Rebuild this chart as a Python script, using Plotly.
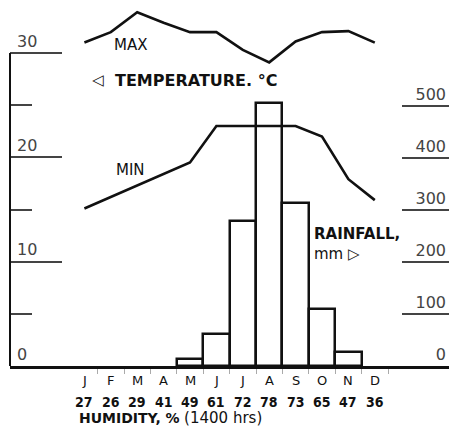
import plotly.graph_objects as go

months = ["J", "F", "M", "A", "M", "J", "J", "A", "S", "O", "N", "D"]
humidity = [27, 26, 29, 41, 49, 61, 72, 78, 73, 65, 47, 36]
temp_max = [31.0, 32.0, 33.9, 32.9, 32.0, 32.0, 30.3, 29.1, 31.1, 32.0, 32.1, 31.0]
temp_min = [15.1, 16.2, 17.3, 18.4, 19.5, 23.0, 23.0, 23.0, 23.0, 22.0, 17.9, 15.9]
rainfall = [0, 0, 0, 0, 13, 62, 280, 507, 314, 110, 27, 0]
temp_ticks = [0, 10, 20, 30]
temp_minor = [5, 15, 25]
rain_ticks = [0, 100, 200, 300, 400, 500]

W, H = 449, 428
x_idx = list(range(len(months)))
FONT = "DejaVu Sans"
INK = "#111"

# months with no rain get no drawn bar (value stays 0 in the data)
rain_drawn = [v if v > 0 else None for v in rainfall]

fig = go.Figure()
fig.add_trace(go.Bar(x=x_idx, y=rain_drawn, width=1.0, yaxis="y",
                     marker=dict(color="white", line=dict(color=INK, width=2.5)),
                     showlegend=False))
fig.add_trace(go.Scatter(x=x_idx, y=temp_max, yaxis="y2", mode="lines",
                         line=dict(color=INK, width=2.6), showlegend=False))
fig.add_trace(go.Scatter(x=x_idx, y=temp_min, yaxis="y2", mode="lines",
                         line=dict(color=INK, width=2.6), showlegend=False))

# pixel geometry helpers
x_left_px = 10
base_px = 366
px_per_month = 26.4
jan_px = 84.4
xr0 = (x_left_px - jan_px) / px_per_month
xr1 = (W - jan_px) / px_per_month
tscale = (base_px - 53) / 30.0
t_top = base_px / tscale
r_top = 705

def py(p):
    return 1 - p / H

def px(p):
    return p / W

fig.update_layout(
    width=W, height=H, margin=dict(l=0, r=0, t=0, b=0),
    paper_bgcolor="white", plot_bgcolor="white",
    bargap=0, showlegend=False,
    xaxis=dict(domain=[px(x_left_px), 1], range=[xr0, xr1], showgrid=False,
               zeroline=False, showline=True, linecolor=INK, linewidth=2.5,
               tickvals=[], showticklabels=False,
               minor=dict(tickmode="array", tickvals=[i + 0.5 for i in x_idx],
                          ticks="outside", ticklen=5, tickwidth=1, tickcolor="#aaa")),
    yaxis=dict(domain=[py(base_px), 1], range=[0, r_top], side="right",
               showgrid=False, zeroline=False, showline=False,
               tickmode="array", tickvals=rain_ticks,
               ticks="inside", ticklen=47, tickwidth=1.5, tickcolor="#444",
               ticklabelposition="inside top",
               tickfont=dict(family=FONT, size=16, color="#444")),
    yaxis2=dict(domain=[py(base_px), 1], range=[0, t_top], side="left",
                overlaying="y", anchor="x",
                showgrid=False, zeroline=False, showline=False,
                tickmode="array", tickvals=temp_ticks,
                ticks="inside", ticklen=52, tickwidth=1.5, tickcolor="#444",
                minor=dict(tickmode="array", tickvals=temp_minor, ticks="inside",
                           ticklen=22, tickwidth=1.5, tickcolor="#444"),
                ticklabelposition="inside top", ticklabelstandoff=4,
                tickfont=dict(family=FONT, size=16, color="#444")),
)

# left axis line from 0 to 30
fig.add_shape(type="line", xref="x domain", yref="y2", x0=0, x1=0,
              y0=temp_ticks[0], y1=temp_ticks[-1], line=dict(color=INK, width=2))

ann = []
for i, m in enumerate(months):
    ann.append(dict(x=i, y=py(380), xref="x", yref="paper", text=m, showarrow=False,
                    font=dict(family=FONT, size=13, color=INK), yanchor="middle"))
    ann.append(dict(x=i, y=py(402), xref="x", yref="paper", text="<b>%d</b>" % humidity[i],
                    showarrow=False, yanchor="middle",
                    font=dict(family="Liberation Sans Narrow, DejaVu Sans Condensed, Liberation Sans",
                              size=14, color=INK)))
ann.append(dict(x=px(77), y=py(418), xref="paper", yref="paper", xanchor="left", yanchor="middle",
                text="<b>HUMIDITY, %</b> <span style='font-size:15px'>(1400 hrs)</span>",
                showarrow=False, font=dict(family=FONT, size=14, color=INK)))
ann.append(dict(x=px(112), y=py(45), xref="paper", yref="paper", xanchor="left", yanchor="middle",
                text="MAX", showarrow=False, font=dict(family=FONT, size=15, color=INK)))
ann.append(dict(x=px(114), y=py(170), xref="paper", yref="paper", xanchor="left", yanchor="middle",
                text="MIN", showarrow=False, font=dict(family=FONT, size=15, color=INK)))
ann.append(dict(x=px(90), y=py(80), xref="paper", yref="paper", xanchor="left", yanchor="middle",
                text="◁", showarrow=False, font=dict(family=FONT, size=15, color=INK)))
ann.append(dict(x=px(113), y=py(80), xref="paper", yref="paper", xanchor="left", yanchor="middle",
                text="<b>TEMPERATURE. °C</b>", showarrow=False,
                font=dict(family=FONT, size=16, color=INK)))
ann.append(dict(x=px(312), y=py(234), xref="paper", yref="paper", xanchor="left", yanchor="middle",
                text="<b>RAINFALL,</b>", showarrow=False, font=dict(family=FONT, size=15, color=INK)))
ann.append(dict(x=px(312), y=py(254), xref="paper", yref="paper", xanchor="left", yanchor="middle",
                text="mm ▷", showarrow=False, font=dict(family=FONT, size=15, color=INK)))
fig.update_layout(annotations=ann)

fig.write_html("out.html", config={"displayModeBar": False},
               post_script="document.body.style.margin='0px';document.body.style.padding='0px';")
